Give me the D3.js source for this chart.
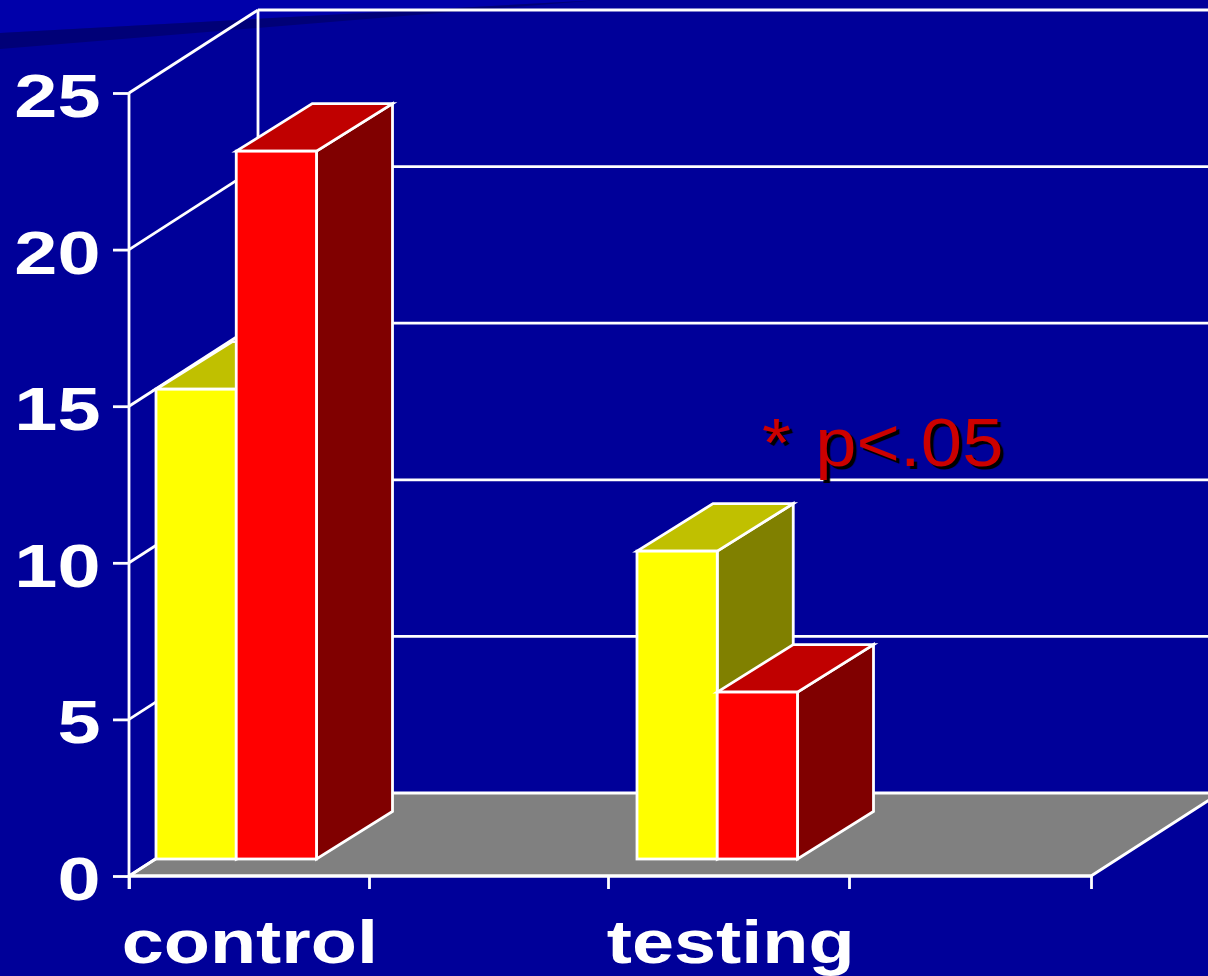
<!DOCTYPE html>
<html><head><meta charset="utf-8">
<script src="https://cdn.jsdelivr.net/npm/d3@7"></script>
<style>html,body{margin:0;padding:0;background:#000099;overflow:hidden}svg{display:block}</style>
</head><body><svg id="c" width="1208" height="976"></svg>
<script>
const categories = ["control", "", "testing", " "];
const groupLabels = ["control", "testing"];
const seriesYellow = [15.0, 9.83];
const seriesRed = [22.6, 5.33];
const yTicks = [0, 5, 10, 15, 20, 25];
const xTickIndex = [0, 1, 2, 3, 4];
const annotation = "* p<.05";

const W = 1208, H = 976;
const BG = "#000099", LINE = "#ffffff", FLOOR = "#808080";
const wallDx = 129, wallDy = -83;         // 3D offset of the back wall
const barInDx = 27, barInDy = -17;        // bar front plane offset
const barDx = 76, barDy = -47.5;          // bar depth

const svg = d3.select("#c");
const x = d3.scaleBand().domain(categories).range([129, 1091]);
const xEdge = d3.scaleLinear().domain(xTickIndex).range([129, 369, 608, 849, 1091]);
const y = d3.scaleLinear().domain([0, 25]).range([876, 93]);
const series = d3.scaleBand().domain(["yellow", "red"]).range([0, 160.5]);
const poly = pts => d3.line()(pts) + "Z";

// background decoration
svg.append("rect").attr("width", W).attr("height", H).attr("fill", BG);
svg.append("path").attr("d", poly([[0,0],[600,0],[0,33]])).attr("fill", "#0000aa");
svg.append("path").attr("d", poly([[0,33],[600,0],[0,49]])).attr("fill", "#000077");

const lw = 2.8;
// floor
const x0 = x.range()[0], x1 = x.range()[1], y0 = y(0);
svg.append("path")
  .attr("d", poly([[x0,y0],[x1,y0],[x1+wallDx,y0+wallDy],[x0+wallDx,y0+wallDy]]))
  .attr("fill", FLOOR).attr("stroke", LINE).attr("stroke-width", lw);

// back wall + side wall grid
const grid = svg.append("g").attr("stroke", LINE).attr("stroke-width", lw).attr("fill", "none");
yTicks.forEach(v => {
  if (v > 0) grid.append("line").attr("x1", x0 + wallDx).attr("x2", x1 + wallDx)
    .attr("y1", y(v) + wallDy).attr("y2", y(v) + wallDy);
  grid.append("line").attr("x1", x0).attr("y1", y(v))
    .attr("x2", x0 + wallDx).attr("y2", y(v) + wallDy);
});
grid.append("line").attr("x1", x0 + wallDx).attr("x2", x0 + wallDx)
  .attr("y1", y(25) + wallDy).attr("y2", y(0) + wallDy);

// axes
const yAxis = svg.append("g").attr("transform", `translate(${x0},0)`)
  .call(d3.axisLeft(y).tickValues(yTicks).tickSize(16).tickSizeOuter(0));
yAxis.select(".domain").attr("stroke", LINE).attr("stroke-width", lw)
  .attr("d", `M0,${y(25)}V${y(0) + 13}`);
yAxis.selectAll(".tick line").attr("stroke", LINE).attr("stroke-width", lw);
yAxis.selectAll(".tick text").attr("fill", LINE)
  .attr("font-family", "'Liberation Sans'").attr("font-weight", "bold").attr("font-size", 61)
  .attr("text-anchor", "end").attr("x", 0).attr("dy", null)
  .attr("transform", "translate(-28.5,23.5) scale(1.27,1)");

const xAxis = svg.append("g").attr("transform", `translate(0,${y0})`)
  .call(d3.axisBottom(xEdge).tickValues(xTickIndex).tickSize(13).tickFormat(""));
xAxis.select(".domain").attr("stroke", LINE).attr("stroke-width", lw).attr("d", `M${x0},0H${x1}`);
xAxis.selectAll(".tick line").attr("stroke", LINE).attr("stroke-width", lw);

svg.append("g").selectAll("text").data(groupLabels).join("text")
  .text(d => d).attr("fill", LINE)
  .attr("font-family", "'Liberation Sans'").attr("font-weight", "bold").attr("font-size", 62)
  .attr("text-anchor", "middle")
  .attr("transform", (d) => `translate(${x(d) + x.bandwidth() / 2 + 0.5},962.5) scale(1.22,1)`);

// bars
function prism(g, left, width, v, cols) {
  const right = left + width, base = y0 + barInDy, top = base - (y0 - y(v));
  const st = s => s.attr("stroke", LINE).attr("stroke-width", lw).attr("stroke-linejoin", "miter");
  st(g.append("path").attr("d", poly([[right,top],[right+barDx,top+barDy],[right+barDx,base+barDy],[right,base]])).attr("fill", cols[2]));
  st(g.append("path").attr("d", poly([[left,top],[left+barDx,top+barDy],[right+barDx,top+barDy],[right,top]])).attr("fill", cols[1]));
  st(g.append("rect").attr("x", left).attr("y", top).attr("width", width).attr("height", base - top).attr("fill", cols[0]));
}
const yellow = ["#ffff00", "#c0c000", "#808000"], red = ["#ff0000", "#c00000", "#800000"];
const bars = svg.append("g");
groupLabels.forEach((c, i) => {
  const gx = x(c) + barInDx;
  prism(bars.append("g"), gx + series("yellow"), series.bandwidth(), seriesYellow[i], yellow);
  prism(bars.append("g"), gx + series("red"), series.bandwidth(), seriesRed[i], red);
});

// annotation with hard shadow
svg.append("text").text(annotation).attr("fill", "#cc0000")
  .attr("font-family", "'Liberation Sans'").attr("font-size", 68)
  .attr("letter-spacing", 0.2).attr("word-spacing", 3)
  .style("filter", "drop-shadow(3px 3px 0 #000000)")
  .attr("transform", "translate(762,466) scale(1.09,1)");
</script></body></html>
